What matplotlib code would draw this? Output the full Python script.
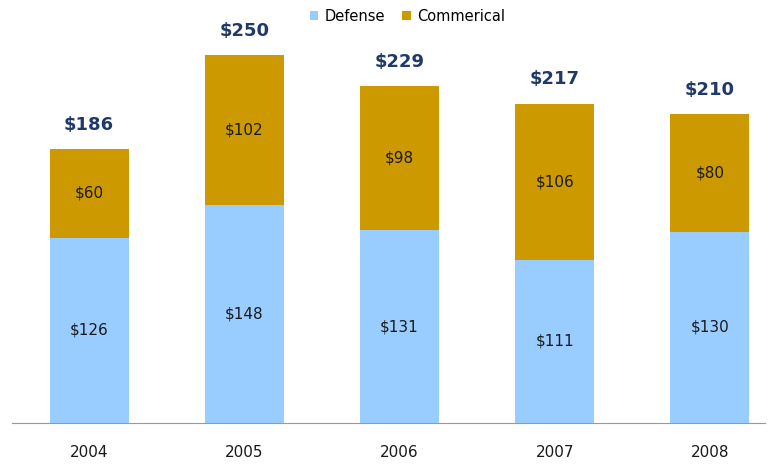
import matplotlib.pyplot as plt
import numpy as np

years = ['2004', '2005', '2006', '2007', '2008']
defense = [126, 148, 131, 111, 130]
commercial = [60, 102, 98, 106, 80]
totals = [186, 250, 229, 217, 210]

c_def = '#99CCFF'
c_com = '#CC9900'
c_tot = '#1F3A68'

fig = plt.figure(figsize=(7.76, 4.67), dpi=100)
ax = fig.add_axes([12 / 776, 0.0942, 753 / 776, 0.9058])

x = np.arange(len(years))
w = 0.51
ax.bar(x, defense, w, color=c_def, label='Defense')
ax.bar(x, commercial, w, bottom=defense, color=c_com, label='Commerical')

for i in range(len(years)):
    ax.text(x[i], defense[i] / 2, f'${defense[i]}', ha='center', va='center',
            fontsize=11, color='#1a1a1a')
    ax.text(x[i], defense[i] + commercial[i] / 2, f'${commercial[i]}',
            ha='center', va='center', fontsize=11, color='#1a1a1a')
    ax.annotate(f'${totals[i]}', (x[i], totals[i]), xytext=(0, 11),
                textcoords='offset points', ha='center', va='bottom',
                fontsize=13, fontweight='bold', color=c_tot)

ax.set_xlim(-0.497, 4.355)
ax.set_ylim(0, 287.4)
for s in ['top', 'right', 'left']:
    ax.spines[s].set_visible(False)
ax.spines['bottom'].set_color('#999999')
ax.set_yticks([])
ax.set_xticks(x)
ax.set_xticklabels(years, fontsize=11, color='#1a1a1a')
ax.tick_params(axis='x', length=0, pad=16)

ax.legend(loc='upper center', bbox_to_anchor=(0.525, 1.01), ncol=2, frameon=False,
          fontsize=10.5, handlelength=0.6, handleheight=0.6, handletextpad=0.4,
          columnspacing=1.2)

fig.savefig('out.png', dpi=100)
